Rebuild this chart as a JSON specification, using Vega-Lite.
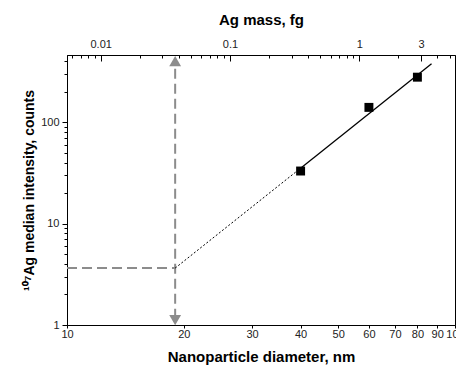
{
  "$schema": "https://vega.github.io/schema/vega-lite/v6.json",
  "width": 388,
  "height": 270,
  "autosize": {"type": "none"},
  "padding": {"left": 67, "top": 55, "right": 1, "bottom": 41},
  "background": "white",
  "config": {
    "view": {"stroke": "black", "strokeWidth": 1},
    "axis": {
      "grid": false,
      "domainColor": "black",
      "tickColor": "black",
      "labelFont": "Liberation Sans",
      "titleFont": "Liberation Sans",
      "labelFontSize": 11,
      "labelColor": "#222222",
      "titleFontSize": 15,
      "titleFontWeight": "bold",
      "titleColor": "black"
    }
  },
  "datasets": {
    "pts": [{"d": 40, "v": 33}, {"d": 60, "v": 140}, {"d": 80, "v": 278}],
    "fit": [
      {"d": 19, "v": 3.64, "seg": "dot"},
      {"d": 40, "v": 35.2, "seg": "dot"},
      {"d": 40, "v": 35.2, "seg": "solid"},
      {"d": 87, "v": 377, "seg": "solid"}
    ],
    "guides": [
      {"d": 10, "v": 3.64, "g": "h"},
      {"d": 19, "v": 3.64, "g": "h"},
      {"d": 19, "v": 1.15, "g": "v"},
      {"d": 19, "v": 400, "g": "v"}
    ],
    "arrows": [{"d": 19, "v": 1.12, "dir": "triangle-down"}, {"d": 19, "v": 400, "dir": "triangle-up"}],
    "mass": [{"m": 0.01}, {"m": 1}]
  },
  "layer": [
    {
      "encoding": {
        "x": {
          "field": "d",
          "type": "quantitative",
          "scale": {"type": "log", "domain": [10, 100], "nice": false},
          "axis": {
            "title": "Nanoparticle diameter, nm",
            "values": [10, 20, 30, 40, 50, 60, 70, 80, 90, 100],
            "tickSize": 3,
            "labelPadding": 0,
            "titlePadding": 10,
            "labelFlush": false
          }
        },
        "y": {
          "field": "v",
          "type": "quantitative",
          "scale": {"type": "log", "domain": [1, 460], "nice": false},
          "axis": {
            "title": "¹⁰⁷Ag median intensity, counts",
            "titleFontSize": 14,
            "values": [1, 2, 3, 4, 5, 6, 7, 8, 9, 10, 20, 30, 40, 50, 60, 70, 80, 90, 100, 200, 300, 400],
            "labelExpr": "indexof([1,10,100], datum.value) >= 0 ? datum.label : ''",
            "tickSize": {"condition": {"test": "indexof([1,10,100], datum.value) >= 0", "value": 5}, "value": 3},
            "labelPadding": 3,
            "titlePadding": 4,
            "labelFlush": false
          }
        }
      },
      "layer": [
        {
          "data": {"name": "guides"},
          "mark": {"type": "line", "color": "#8c8c8c", "strokeWidth": 2, "strokeDash": [10, 5], "clip": true},
          "encoding": {"detail": {"field": "g"}}
        },
        {
          "data": {"name": "arrows"},
          "mark": {"type": "point", "filled": true, "color": "#8c8c8c", "size": 140, "opacity": 1},
          "encoding": {"shape": {"field": "dir", "type": "nominal", "scale": null}}
        },
        {
          "data": {"name": "fit"},
          "transform": [{"filter": "datum.seg == 'dot'"}],
          "mark": {"type": "line", "color": "black", "strokeWidth": 1, "strokeDash": [2, 2]},
          "encoding": {}
        },
        {
          "data": {"name": "fit"},
          "transform": [{"filter": "datum.seg == 'solid'"}],
          "mark": {"type": "line", "color": "black", "strokeWidth": 1.3},
          "encoding": {}
        },
        {
          "data": {"name": "pts"},
          "mark": {"type": "square", "color": "black", "filled": true, "size": 80, "opacity": 1},
          "encoding": {}
        }
      ]
    },
    {
      "data": {"name": "mass"},
      "mark": {"type": "point", "opacity": 0},
      "encoding": {
        "x": {
          "field": "m",
          "type": "quantitative",
          "scale": {"type": "log", "domain": [0.00549, 5.49], "nice": false},
          "axis": {
            "orient": "top",
            "title": "Ag mass, fg",
            "values": [0.006, 0.007, 0.008, 0.009, 0.01, 0.02, 0.03, 0.04, 0.05, 0.06, 0.07, 0.08, 0.09, 0.1, 0.2, 0.3, 0.4, 0.5, 0.6, 0.7, 0.8, 0.9, 1, 2, 3, 4, 5],
            "labelExpr": "indexof([0.01,0.1,1,3], datum.value) >= 0 ? datum.label : ''",
            "tickSize": {"condition": {"test": "indexof([0.01,0.1,1,3], datum.value) >= 0", "value": -6}, "value": -3},
            "labelPadding": 12,
            "titlePadding": 11,
            "labelFlush": false
          }
        }
      }
    }
  ],
  "resolve": {"scale": {"x": "independent"}}
}
